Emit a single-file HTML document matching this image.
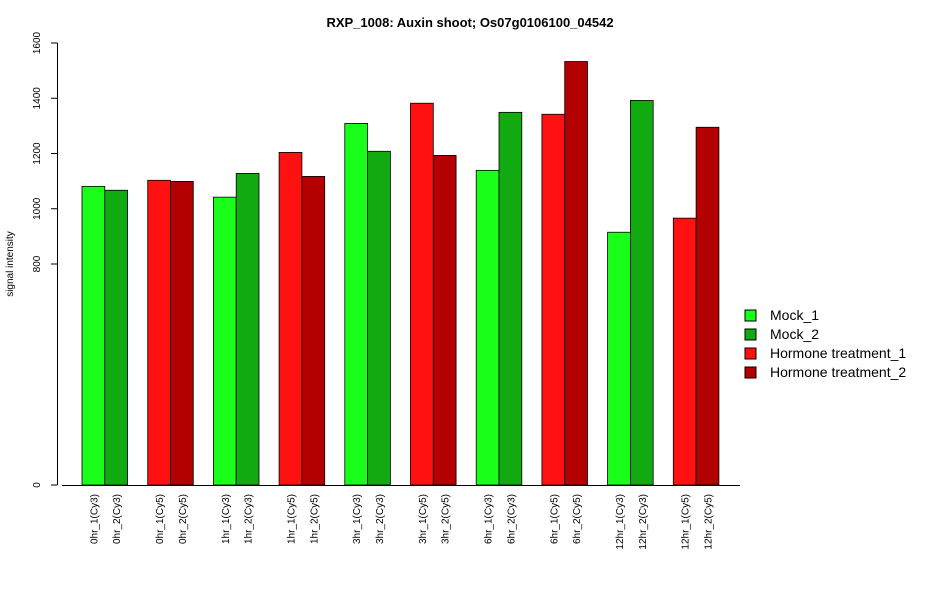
<!DOCTYPE html>
<html><head><meta charset="utf-8"><style>
body{margin:0;background:#fff;font-family:"Liberation Sans",sans-serif}
</style></head><body>
<svg id="chart" width="950" height="600" xmlns="http://www.w3.org/2000/svg" font-family="Liberation Sans, sans-serif">
<text x="470" y="27" text-anchor="middle" font-size="13" font-weight="bold">RXP_1008: Auxin shoot; Os07g0106100_04542</text>
<text transform="translate(13,264) rotate(-90)" text-anchor="middle" font-size="10">signal intensity</text>
<g id="yaxis"></g>
<g id="bars"></g>
<g id="xlabels"></g>
<line x1="62" y1="485.5" x2="740" y2="485.5" stroke="#000"/>
<g font-size="14">
<g><rect x="745" y="310" width="11" height="11" fill="#19ff19" stroke="#000"/><text x="770" y="320">Mock_1</text></g>
<g><rect x="745" y="329" width="11" height="11" fill="#11aa11" stroke="#000"/><text x="770" y="339">Mock_2</text></g>
<g><rect x="745" y="348" width="11" height="11" fill="#ff1111" stroke="#000"/><text x="770" y="358">Hormone treatment_1</text></g>
<g><rect x="745" y="367" width="11" height="11" fill="#b30000" stroke="#000"/><text x="770" y="377">Hormone treatment_2</text></g>
</g>
</svg>
<script>
const categories=["0hr_1(Cy3)","0hr_2(Cy3)","0hr_1(Cy5)","0hr_2(Cy5)","1hr_1(Cy3)","1hr_2(Cy3)","1hr_1(Cy5)","1hr_2(Cy5)","3hr_1(Cy3)","3hr_2(Cy3)","3hr_1(Cy5)","3hr_2(Cy5)","6hr_1(Cy3)","6hr_2(Cy3)","6hr_1(Cy5)","6hr_2(Cy5)","12hr_1(Cy3)","12hr_2(Cy3)","12hr_1(Cy5)","12hr_2(Cy5)"];
const values=[1081,1067,1103,1099,1042,1128,1204,1117,1309,1208,1382,1193,1139,1349,1342,1533,915,1392,966,1295];
const seriesIdx=[0,1,2,3,0,1,2,3,0,1,2,3,0,1,2,3,0,1,2,3];
const colors=["#19ff19","#11aa11","#ff1111","#b30000"];
const yTicks=[0,800,1000,1200,1400,1600];
const NS="http://www.w3.org/2000/svg";
function y(v){return 485-v*0.27625;}
function xb(i){const g=Math.floor(i/2);return 82+g*65.7+(i%2)*22.8;}
const bw=22.8;
const ya=document.getElementById('yaxis');
let l=document.createElementNS(NS,'line');
l.setAttribute('x1',57.5);l.setAttribute('x2',57.5);l.setAttribute('y1',y(0));l.setAttribute('y2',y(1600));l.setAttribute('stroke','#000');


ya.appendChild(l);
yTicks.forEach(t=>{
 const tk=document.createElementNS(NS,'line');
 tk.setAttribute('x1',51);tk.setAttribute('x2',57.5);tk.setAttribute('y1',y(t));tk.setAttribute('y2',y(t));tk.setAttribute('stroke','#000');
 
 
 ya.appendChild(tk);
 const tx=document.createElementNS(NS,'text');
 tx.setAttribute('transform',`translate(40,${y(t)}) rotate(-90)`);
 tx.setAttribute('text-anchor','middle');tx.setAttribute('font-size','10');
 tx.textContent=t;
 
 
 ya.appendChild(tx);
});
const bg=document.getElementById('bars'),xl=document.getElementById('xlabels');
values.forEach((v,i)=>{
 const r=document.createElementNS(NS,'rect');
 r.setAttribute('x',xb(i));r.setAttribute('y',y(v));r.setAttribute('width',bw);r.setAttribute('height',y(0)-y(v));
 r.setAttribute('fill',colors[seriesIdx[i]]);r.setAttribute('stroke','#000');r.setAttribute('stroke-width','0.8');
 
 
 bg.appendChild(r);
 const tx=document.createElementNS(NS,'text');
 const cx=xb(i)+bw/2+4;
 tx.setAttribute('transform',`translate(${cx},494) rotate(-90)`);
 tx.setAttribute('text-anchor','end');tx.setAttribute('font-size','10');
 tx.textContent=categories[i];
 
 
 xl.appendChild(tx);
});
</script>
</body></html>
